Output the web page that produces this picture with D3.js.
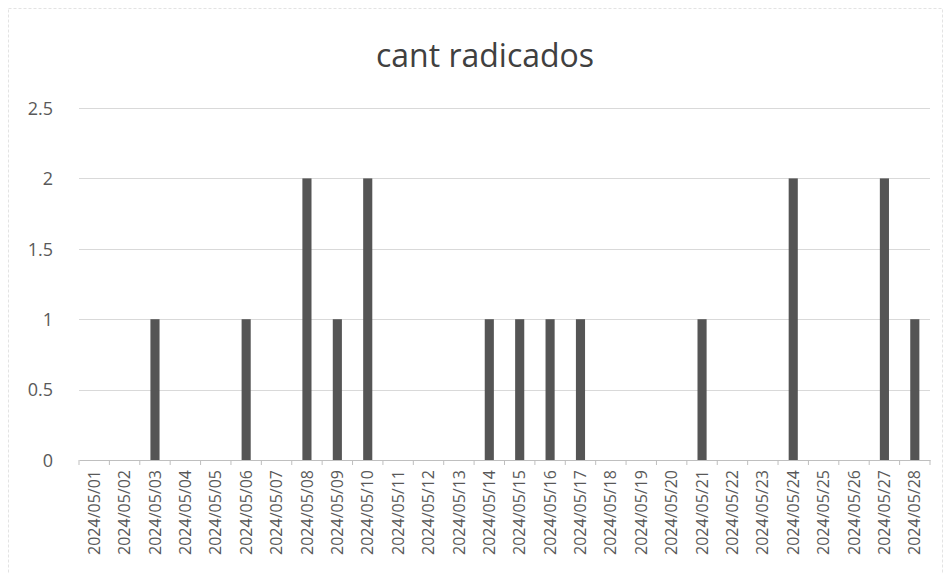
<!DOCTYPE html>
<html><head><meta charset="utf-8">
<script src="https://cdn.jsdelivr.net/npm/d3@7"></script>
<style>body{margin:0;background:#fff;}svg{display:block;}</style>
</head><body>
<script>
const categories = ["2024/05/01","2024/05/02","2024/05/03","2024/05/04","2024/05/05","2024/05/06","2024/05/07","2024/05/08","2024/05/09","2024/05/10","2024/05/11","2024/05/12","2024/05/13","2024/05/14","2024/05/15","2024/05/16","2024/05/17","2024/05/18","2024/05/19","2024/05/20","2024/05/21","2024/05/22","2024/05/23","2024/05/24","2024/05/25","2024/05/26","2024/05/27","2024/05/28"];
const values = [0,0,1,0,0,1,0,2,1,2,0,0,0,1,1,1,1,0,0,0,1,0,0,2,0,0,2,1];
const yTicks = [0,0.5,1,1.5,2,2.5];
const title = "cant radicados";

const W=946,H=574;
const svg=d3.select("body").append("svg").attr("width",W).attr("height",H);
svg.append("rect").attr("x",8.5).attr("y",8.5).attr("width",W-12).attr("height",H-6)
  .attr("fill","none").attr("stroke","#e3e3e3").attr("stroke-dasharray","3,2");
const m={left:79,right:930,top:108,bottom:460};
const x=d3.scaleBand().domain(categories).range([m.left,m.right]).paddingInner(0.7).paddingOuter(0.35);
const y=d3.scaleLinear().domain([0,2.5]).range([m.bottom,m.top]);

svg.append("text").attr("x",485).attr("y",67).attr("text-anchor","middle")
  .attr("font-family","Open Sans").attr("font-size",32).attr("fill","#404040").text(title);

svg.append("g").selectAll("line").data(yTicks.filter(d=>d>0)).join("line")
  .attr("x1",m.left).attr("x2",m.right).attr("y1",d=>Math.round(y(d))+0.5).attr("y2",d=>Math.round(y(d))+0.5)
  .attr("stroke","#d9d9d9").attr("stroke-width",1);

const ya=svg.append("g").attr("transform",`translate(${m.left-23},0)`)
  .call(d3.axisLeft(y).tickValues(yTicks).tickSize(0).tickFormat(d=>String(d)));
ya.select(".domain").remove();
ya.selectAll("text").attr("font-family","Open Sans").attr("font-size",18).attr("fill","#595959").attr("dy","0.35em");

svg.append("g").selectAll("rect").data(values).join("rect")
  .attr("x",(d,i)=>x(categories[i])).attr("width",x.bandwidth())
  .attr("y",d=>y(d)).attr("height",d=>y(0)-y(d)).attr("fill","#555555");

const xa=svg.append("g").attr("transform",`translate(0,${m.bottom})`)
  .call(d3.axisBottom(x).tickSize(0));
xa.select(".domain").attr("stroke","#bfbfbf");
xa.selectAll(".bnd").data(d3.range(categories.length+1)).join("line").attr("class","bnd")
  .attr("x1",i=>m.left+i*(m.right-m.left)/categories.length).attr("x2",i=>m.left+i*(m.right-m.left)/categories.length)
  .attr("y1",0).attr("y2",5).attr("stroke","#bfbfbf");
xa.selectAll(".tick text").attr("font-family","Open Sans").attr("font-size",16).attr("fill","#595959")
  .attr("transform","rotate(-90)").attr("text-anchor","end").attr("x",-10).attr("y",0).attr("dy","0.35em");
</script>
</body></html>
